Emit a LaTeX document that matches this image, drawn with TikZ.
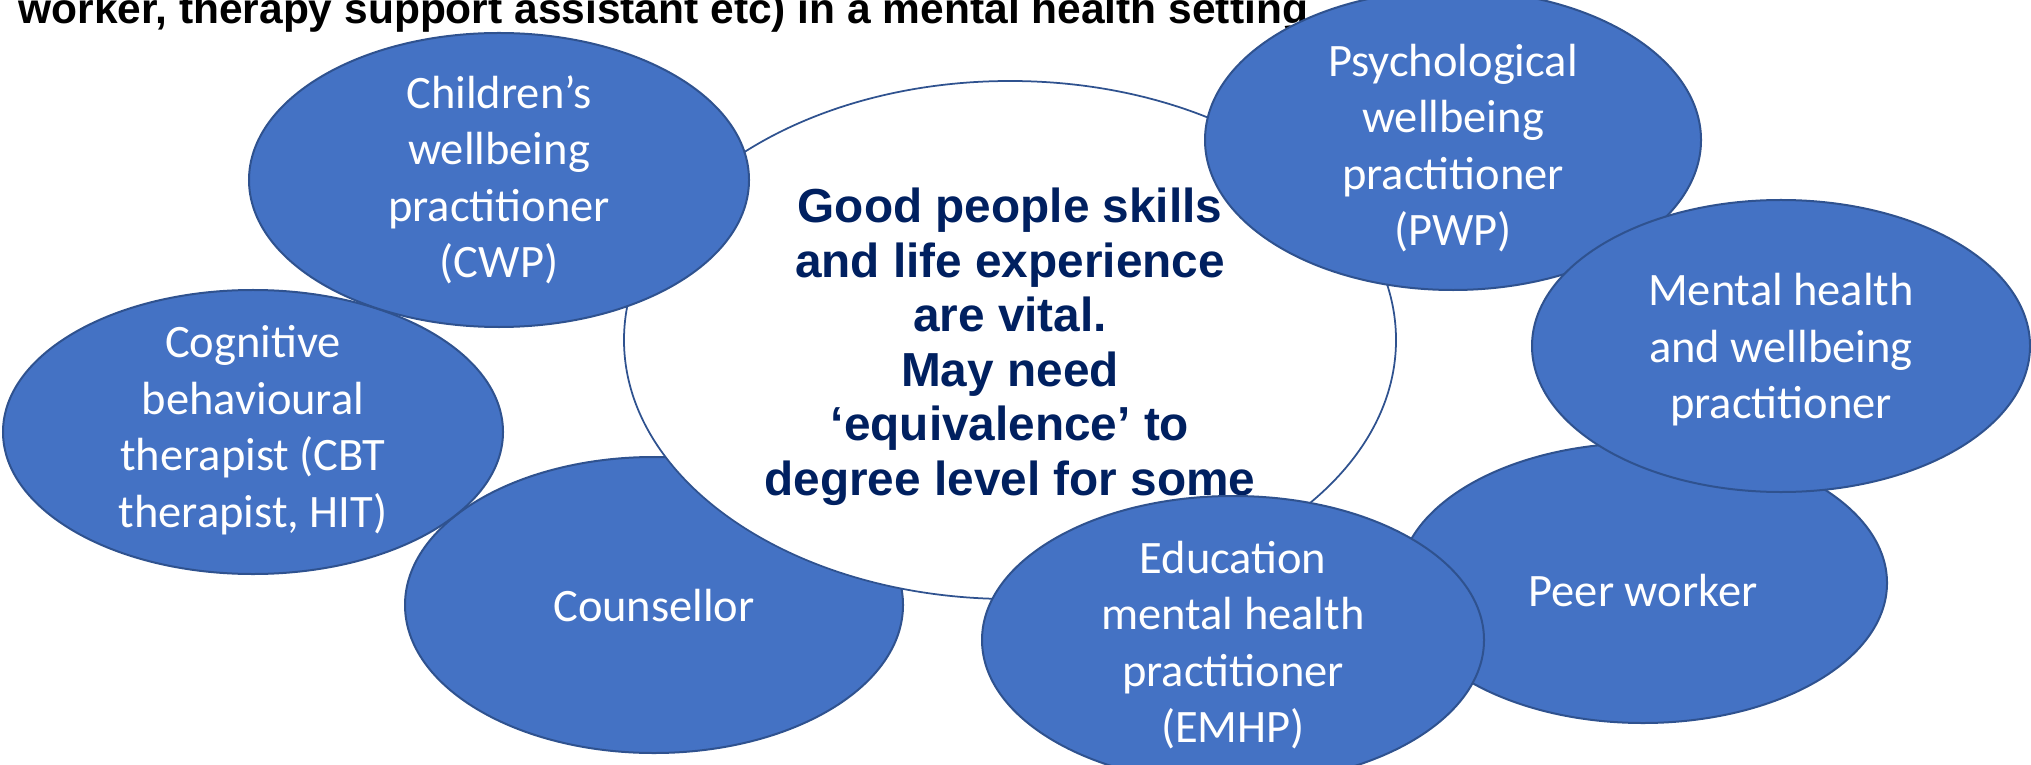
\documentclass[tikz,border=0pt]{standalone}
\usepackage{fontspec}
\setmainfont{Liberation Sans}
\newfontfamily\rolefont{Carlito}
\usetikzlibrary{shapes.geometric}
\definecolor{roleblue}{HTML}{4472C4}
\definecolor{roleedge}{HTML}{2F528F}
\definecolor{navytext}{HTML}{002060}
\tikzset{
  role/.style={
    ellipse, draw=roleedge, fill=roleblue,
    line width=0.8pt, inner sep=0pt
  },
  roletext/.style={
    align=center, text=white,
    font=\rolefont\fontsize{18.6}{22.6}\selectfont
  },
  hub/.style={
    ellipse, draw=roleedge, fill=white,
    line width=0.7pt, inner sep=0pt
  },
  hubtext/.style={
    align=center, text=navytext,
    font=\bfseries\fontsize{19.1}{21.8}\selectfont
  }
}

\begin{document}
\begin{tikzpicture}[x=0.4pt,y=-0.4pt]
      \useasboundingbox (0,0) rectangle (2031,765);

      \node [anchor=base west, inner sep=0pt, font=\bfseries\fontsize{17}{20}\selectfont] (Heading) at (18,24)
        {worker, therapy support assistant etc) in a mental health setting.};

      % bottom layer
      \node [role, minimum width=199.2pt, minimum height=118.4pt] (Couns) at (654,605) {};
      \node [roletext] (CounsTxt) at (654,606) {Counsellor};

      % centre
      \node [hub, minimum width=308.8pt, minimum height=207.2pt] (Hub) at (1010,340) {};
      \node [hubtext] (HubTxt) at (1010,347) {Good people skills\\and life experience\\are vital.\\May need\\‘equivalence’ to\\degree level for some};

      % roles round the centre
      \node [role, minimum width=200pt, minimum height=113.6pt] (CBT) at (253,432) {};
      \node [roletext] (CBTTxt) at (253,430) {Cognitive\\behavioural\\therapist (CBT\\therapist, HIT)};

      \node [role, minimum width=200pt, minimum height=117.6pt] (CWP) at (499,180) {};
      \node [roletext] (CWPTxt) at (CWP) {Children’s\\wellbeing\\practitioner\\(CWP)};

      \node [role, minimum width=195.2pt, minimum height=112pt] (Peer) at (1643,583) {};
      \node [roletext] (PeerTxt) at (1643,591) {Peer worker};

      \node [role, minimum width=200.8pt, minimum height=115.2pt] (EMHP) at (1233,640) {};
      \node [roletext] (EMHPTxt) at (1233,645) {Education\\mental health\\practitioner\\(EMHP)};

      \node [role, minimum width=198.4pt, minimum height=120pt] (PWP) at (1453,140) {};
      \node [roletext] (PWPTxt) at (1453,148) {Psychological\\wellbeing\\practitioner\\(PWP)};

      \node [role, minimum width=199.2pt, minimum height=116.8pt] (MHWP) at (1781,346) {};
      \node [roletext] (MHWPTxt) at (1781,350) {Mental health\\and wellbeing\\practitioner};
\end{tikzpicture}
\end{document}
